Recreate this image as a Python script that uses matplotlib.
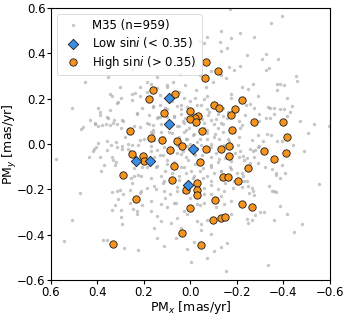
import numpy as np
import matplotlib
matplotlib.use("Agg")
import matplotlib.pyplot as plt

# ---- data ----
gray_x = [
 -0.392,-0.346,-0.214,-0.275,-0.243,-0.323,-0.308,-0.375,-0.214,-0.338,-0.326,-0.455,-0.458,-0.269,-0.372,-0.384,-0.404,-0.223,-0.249,-0.372,-0.292,-0.415,-0.237,-0.257,-0.272,-0.332,-0.341,-0.358,-0.384,-0.401,-0.438,-0.429,-0.361,-0.234,-0.295,-0.297,-0.323,-0.343,-0.415,-0.472,-0.533,-0.596,-0.223,-0.214,-0.209,-0.263,-0.292,-0.329,-0.346,-0.312,-0.372,-0.395,-0.507,
 -0.206,-0.214,-0.226,-0.211,-0.232,-0.257,-0.269,-0.277,-0.289,-0.297,-0.243,-0.272,-0.289,-0.257,-0.320,-0.349,-0.369,-0.369,-0.384,-0.406,-0.392,-0.487,-0.441,-0.220,-0.226,-0.232,-0.243,-0.223,-0.249,-0.263,-0.269,-0.252,-0.272,-0.349,-0.358,-0.369,-0.338,-0.553,-0.384,-0.415,-0.315,-0.300,-0.277,-0.243,-0.249,-0.263,-0.358,-0.481,-0.447,-0.332,
 0.580,0.419,0.405,0.414,0.437,0.373,0.385,0.336,0.325,0.319,0.474,0.336,0.316,0.302,0.290,0.313,0.325,0.339,0.299,0.299,0.293,0.511,0.262,0.253,0.256,0.244,0.224,0.213,0.213,0.219,0.247,0.230,0.230,0.210,0.262,0.546,0.376,0.359,0.285,0.224,0.342,0.296,0.293,0.270,0.250,0.227,0.262,0.244,
 0.253,0.353,0.454,0.305,0.345,0.336,0.253,0.219,0.299,0.313,0.508,0.396,0.391,0.230,0.356,0.328,0.296,0.411,0.396,0.382,0.365,0.348,0.333,0.316,0.290,0.471,0.299,0.242,0.216,0.359,0.319,0.399,0.207,
 -0.168,-0.058,-0.072,-0.133,-0.176,-0.156,-0.133,-0.127,-0.167,-0.187,-0.087,-0.041,-0.133,-0.153,-0.095,-0.067,0.022,-0.024,0.051,0.143,0.100,0.171,0.186,0.131,0.074,0.028,-0.018,-0.070,-0.173,-0.173,0.131,0.160,0.057,0.100,0.042,0.014,-0.044,-0.072,-0.138,-0.161,0.180,0.143,0.071,0.039,0.025,-0.012,-0.075,-0.087,-0.141,-0.158,0.160,0.125,0.094,0.057,0.028,0.005,-0.015,-0.058,-0.101,-0.130,-0.176,0.171,0.128,0.091,0.028,-0.015,-0.072,-0.107,-0.141,-0.187,0.157,0.114,0.062,0.016,-0.029,-0.072,-0.124,-0.167,
 0.171,0.143,0.114,0.057,0.014,-0.044,-0.087,-0.144,-0.178,0.157,0.120,0.042,0.019,-0.015,-0.087,-0.121,-0.173,0.186,0.143,0.100,0.028,-0.001,-0.052,-0.087,-0.130,-0.176,0.171,0.128,0.114,0.051,-0.015,-0.052,-0.087,-0.130,-0.187,0.186,0.157,0.114,0.057,-0.058,-0.087,-0.144,-0.181,0.171,0.128,0.100,0.062,0.028,-0.029,-0.058,-0.110,-0.144,-0.176,0.171,0.143,0.128,0.085,0.057,0.014,-0.029,-0.044,-0.044,-0.072,-0.173,0.157,0.143,0.114,0.062,0.014,-0.015,0.042,-0.087,-0.001,-0.153,-0.158,-0.133,-0.101,-0.072,
 -0.003,0.016,-0.041,0.027,0.045,0.074,-0.018,0.103,0.145,0.188,0.217,0.239,0.253,0.318,0.346,0.389,0.432,0.461,0.411,0.361,0.160,0.131,0.188,0.232,0.160,0.217,0.267,0.282,0.318,0.361,0.389,0.332,
 0.08,0.05,0.02,-0.01,-0.04,-0.07,-0.10,-0.12,0.10,0.07,0.03,-0.02,-0.05,-0.08,-0.11,-0.14,0.12,0.09,0.06,0.03,0.00,-0.03,-0.05,-0.08,-0.11,-0.14,-0.16,0.13,0.10,0.07,0.04,0.01,-0.02,-0.05,-0.09,-0.12,-0.15,0.15,0.11,0.08,0.05,0.02,-0.01,-0.04,-0.07,-0.10,-0.13,-0.17,0.16,0.14,0.18,0.17,0.19,-0.18,-0.19,-0.16,-0.13,0.11,0.08,0.04,0.00,-0.03,-0.06,-0.10,0.06,0.09,0.03,-0.03,-0.06,-0.09,-0.12,-0.15,0.12,0.15,0.00,-0.04,0.07,-0.10,0.11,-0.13,0.20,0.21,-0.21,-0.20,0.02,-0.06,0.05,-0.02,0.08,-0.09,0.10,-0.12,
]
gray_y = [
 0.563,0.534,0.489,0.470,0.392,0.396,0.376,0.376,0.345,0.337,0.328,0.300,0.278,0.266,0.266,0.265,0.262,0.252,0.243,0.240,0.210,0.203,0.172,0.175,0.157,0.163,0.157,0.160,0.154,0.154,0.169,0.139,0.131,0.128,0.131,0.101,0.113,0.113,0.122,0.101,0.089,0.080,0.083,0.069,0.032,0.018,0.039,0.042,0.039,0.013,0.013,0.013,0.048,
 -0.006,-0.032,-0.053,-0.056,-0.071,-0.021,-0.030,-0.027,-0.012,-0.009,-0.062,-0.056,-0.086,-0.083,-0.100,-0.112,-0.127,-0.136,-0.148,-0.130,-0.092,-0.030,-0.003,-0.130,-0.142,-0.162,-0.165,-0.189,-0.186,-0.192,-0.207,-0.215,-0.227,-0.207,-0.207,-0.210,-0.186,-0.177,-0.272,-0.310,-0.298,-0.301,-0.313,-0.331,-0.348,-0.337,-0.337,-0.351,-0.390,-0.534,
 -0.065,-0.030,-0.015,-0.024,-0.059,-0.094,-0.118,-0.059,-0.094,-0.080,-0.218,-0.210,-0.207,-0.204,-0.221,-0.242,-0.269,-0.289,-0.292,-0.322,-0.354,-0.337,-0.201,-0.171,-0.148,-0.142,-0.139,-0.142,-0.207,-0.218,-0.286,-0.295,-0.310,-0.269,-0.260,-0.428,-0.425,-0.422,-0.458,-0.469,-0.003,-0.009,-0.024,-0.021,-0.003,-0.006,-0.032,-0.106,
 0.330,0.294,0.272,0.252,0.222,0.213,0.222,0.213,0.201,0.184,0.157,0.157,0.139,0.134,0.113,0.104,0.107,0.086,0.080,0.083,0.086,0.083,0.092,0.089,0.101,0.066,0.072,0.077,0.075,0.013,0.007,0.004,0.157,
 0.596,0.444,0.473,0.500,0.467,0.423,0.408,0.449,0.340,0.325,0.323,0.305,0.302,0.290,0.272,0.252,0.258,0.237,0.231,0.246,0.258,0.266,0.228,0.216,0.201,0.201,0.201,0.213,0.222,0.204,0.172,0.166,0.169,0.154,0.154,0.163,0.172,0.154,0.157,0.142,0.128,0.113,0.122,0.131,0.113,0.134,0.128,0.104,0.125,0.113,0.083,0.089,0.098,0.080,0.092,0.069,0.083,0.092,0.086,0.092,0.072,0.051,0.054,0.054,0.054,0.042,0.060,0.045,0.051,0.051,0.018,0.021,0.010,0.021,0.010,0.021,0.021,0.013,
 -0.009,-0.027,-0.015,-0.006,-0.009,-0.003,-0.012,-0.006,-0.015,-0.059,-0.050,-0.044,-0.059,-0.044,-0.059,-0.068,-0.074,-0.103,-0.097,-0.089,-0.103,-0.118,-0.106,-0.094,-0.118,-0.112,-0.148,-0.142,-0.162,-0.142,-0.142,-0.148,-0.162,-0.154,-0.162,-0.192,-0.186,-0.207,-0.207,-0.192,-0.221,-0.207,-0.192,-0.251,-0.266,-0.280,-0.260,-0.295,-0.266,-0.260,-0.280,-0.266,-0.251,-0.295,-0.319,-0.339,-0.348,-0.325,-0.310,-0.339,-0.354,-0.378,-0.334,-0.310,-0.369,-0.416,-0.449,-0.413,-0.463,-0.434,-0.369,-0.399,-0.520,-0.558,-0.437,-0.455,-0.472,-0.502,
 0.445,0.386,0.452,0.356,0.309,0.274,0.348,0.253,0.297,0.275,0.253,0.224,0.194,0.179,0.150,0.128,0.106,0.076,0.091,0.120,0.164,0.120,0.091,0.135,0.047,0.017,0.002,0.032,-0.012,-0.027,-0.057,-0.072,
 0.05,0.03,0.06,0.04,0.02,0.05,0.03,0.07,0.08,0.12,0.10,0.13,0.11,0.14,0.11,0.09,0.03,-0.02,-0.04,-0.03,0.00,-0.02,-0.05,-0.03,-0.04,-0.02,0.02,-0.05,-0.07,-0.08,-0.10,-0.07,-0.09,-0.08,-0.10,-0.08,-0.06,-0.10,-0.12,-0.13,-0.16,-0.13,-0.15,-0.12,-0.14,-0.13,-0.12,-0.10,0.06,0.12,0.09,-0.03,-0.07,0.06,-0.04,0.13,0.16,0.16,0.19,0.17,0.19,0.17,0.20,0.18,-0.19,-0.22,-0.21,-0.19,-0.22,-0.18,-0.20,-0.17,-0.17,-0.20,-0.24,-0.27,-0.26,-0.25,-0.24,-0.23,0.02,-0.10,0.10,-0.13,0.02,0.07,0.08,-0.05,-0.10,0.00,0.12,0.13,
]

low_x = [0.092, 0.094, -0.009, 0.234, 0.176, 0.012]
low_y = [0.204, 0.088, -0.024, -0.076, -0.073, -0.181]

high_x = [-0.065,-0.120,-0.061,0.163,0.178,0.065,-0.222,-0.101,-0.123,-0.193,0.004,0.113,-0.176,-0.031,-0.019,0.002,-0.025,-0.275,-0.398,0.260,-0.051,-0.180,-0.414,0.168,0.121,0.057,0.038,-0.167,0.090,-0.067,-0.130,0.252,0.206,-0.164,-0.315,-0.411,-0.359,0.200,-0.041,0.072,-0.247,0.290,-0.141,-0.163,0.080,-0.206,-0.027,0.019,-0.028,-0.027,0.236,-0.107,-0.223,-0.266,0.002,-0.098,-0.133,-0.148,0.035,-0.045,0.332]
high_y = [0.362,0.323,0.290,0.238,0.199,0.219,0.196,0.170,0.157,0.153,0.147,0.135,0.126,0.125,0.113,0.108,0.099,0.099,0.099,0.055,0.058,0.061,0.032,0.026,0.018,0.011,-0.011,-0.008,-0.027,-0.024,-0.024,-0.046,-0.055,-0.053,-0.032,-0.038,-0.068,-0.076,-0.080,-0.097,-0.104,-0.138,-0.144,-0.147,-0.160,-0.165,-0.170,-0.201,-0.204,-0.224,-0.241,-0.246,-0.266,-0.278,-0.281,-0.336,-0.328,-0.322,-0.393,-0.445,-0.441]

n_members = 959
ticks = [0.6, 0.4, 0.2, 0.0, -0.2, -0.4, -0.6]

# ---- figure ----
fig = plt.figure(figsize=(3.48, 3.15), dpi=100)
ax = fig.add_axes([0.1466, 0.111, 0.8014, 0.864])

ax.scatter(gray_x, gray_y, s=6, color="#a8a8a8", alpha=0.65, linewidths=0,
           label=f"M35 (n={n_members})", zorder=1)
ax.scatter(low_x, low_y, s=28, marker="D", color="#3a8ee6", edgecolors="#1a1a1a",
           linewidths=0.6, label=r"Low sin$i$ (< 0.35)", zorder=3)
ax.scatter(high_x, high_y, s=28, marker="o", color="#f7941d", edgecolors="#1a1a1a",
           linewidths=0.6, label=r"High sin$i$ (> 0.35)", zorder=2)

ax.set_xlim(0.6, -0.6)
ax.set_ylim(-0.6, 0.6)
ax.set_xticks(ticks)
ax.set_yticks(ticks)
ax.tick_params(labelsize=8.5, length=3, width=0.8, pad=1.0)
ax.set_xlabel(r"PM$_x$ [mas/yr]", fontsize=9)
ax.set_ylabel(r"PM$_y$ [mas/yr]", fontsize=9)
ax.xaxis.set_label_coords(0.5, -0.068)
ax.yaxis.set_label_coords(-0.115, 0.5)

leg = ax.legend(loc="upper left", fontsize=8.5, frameon=True, handletextpad=0.6,
                borderpad=0.4, labelspacing=0.3, markerscale=1.0)
leg.get_frame().set_linewidth(0.6)

fig.savefig("out.png", dpi=100)
